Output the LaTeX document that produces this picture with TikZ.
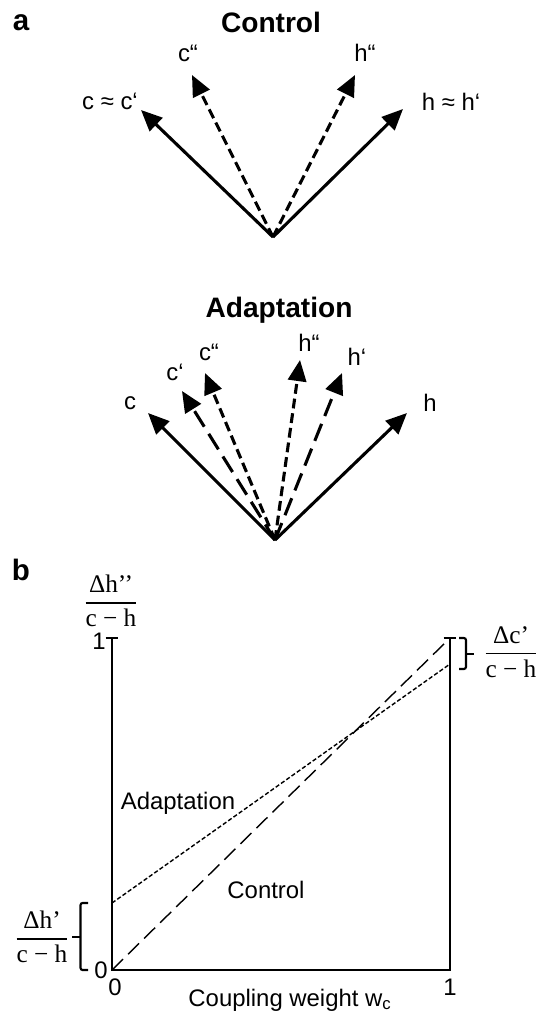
\documentclass[tikz,border=0pt]{standalone}
\usepackage{amsmath}
\usepackage{fontspec}
\setmainfont{Liberation Sans}
\newfontfamily\fracfont{Liberation Serif}
\usetikzlibrary{arrows.meta}

% fraction label with a heavy rule: #1=numerator, #2=denominator
\newcommand{\ratiolbl}[2]{%
  $\genfrac{}{}{1.3pt}{0}{\mbox{\fracfont #1}}{\mbox{\fracfont #2}}$%
}

\begin{document}
\begin{tikzpicture}[x=0.025cm, y=-0.025cm,
  >={Triangle[length=15pt,width=13pt]},
  vecsolid/.style={->, line width=2.2pt},
  vecshort/.style={->, line width=2.2pt, dash pattern=on 7pt off 3.5pt},
  veclong/.style={->, line width=2.2pt, dash pattern=on 13pt off 6pt},
  vlbl/.style={font=\fontsize{17}{20}\selectfont, inner sep=0pt},
  ttl/.style={font=\bfseries\fontsize{20}{24}\selectfont, inner sep=0pt},
  panel/.style={font=\bfseries\fontsize{21}{25}\selectfont, inner sep=0pt},
  axisline/.style={line width=1.5pt},
  fraclbl/.style={font=\fracfont\fontsize{18}{21}\selectfont, inner sep=0pt},
  bracketline/.style={line width=1.5pt, rounded corners=1.5pt}]

\useasboundingbox (0,0) rectangle (536,1013);

% ================================================================
% Panel a, Control
% ================================================================
\node[panel] (pa) at (21,23) {a};
\node[ttl] (tctl) at (271,22) {Control};

\coordinate (oc) at (273,237);
\coordinate (cc) at (141,110);
\coordinate (ccc) at (192,75);
\coordinate (hhh) at (355,75);
\coordinate (hh) at (403,109);

\node[vlbl] (lcc) at (110,101) {c ≈ c‘};
\node[vlbl] (lccc) at (188,53) {c“};
\node[vlbl] (lhhh) at (365,53) {h“};
\node[vlbl] (lhh) at (451,102) {h ≈ h‘};

\draw[vecsolid] (oc) -- (cc);
\draw[vecshort] (oc) -- (ccc);
\draw[vecshort] (oc) -- (hhh);
\draw[vecsolid] (oc) -- (hh);

% ================================================================
% Panel a, Adaptation
% ================================================================
\node[ttl] (tadp) at (279,310) {Adaptation};

\coordinate (oa) at (275,540);
\coordinate (ac) at (148,413);
\coordinate (acp) at (182,391);
\coordinate (acpp) at (205,373);
\coordinate (ahpp) at (300,360);
\coordinate (ahp) at (342,373);
\coordinate (ah) at (407,413);

\node[vlbl] (lac) at (130,403) {c};
\node[vlbl] (lacp) at (175,372) {c‘};
\node[vlbl] (lacpp) at (209,352) {c“};
\node[vlbl] (lahpp) at (309,343) {h“};
\node[vlbl] (lahp) at (357,357) {h‘};
\node[vlbl] (lah) at (430,403) {h};

\draw[vecsolid] (oa) -- (ac);
\draw[veclong] (oa) -- (acp);
\draw[vecshort] (oa) -- (acpp);
\draw[vecshort] (oa) -- (ahpp);
\draw[veclong] (oa) -- (ahp);
\draw[vecsolid] (oa) -- (ah);

% ================================================================
% Panel b: x 0..1 -> 112..450, y 0..1 -> 970..638
% ================================================================
\node[panel] (pb) at (21,570) {b};

\coordinate (p00) at (112,970);
\coordinate (p01) at (112,638);
\coordinate (p10) at (450,970);
\coordinate (p11) at (450,638);
\coordinate (adpl) at (112,903);
\coordinate (adpr) at (450,664);

% axes with small caps on top
\draw[axisline] (p01) -- (p00) -- (p10) -- (p11);
\draw[axisline] ([xshift=-4.5]p01) -- ([xshift=4.5]p01);
\draw[axisline] ([xshift=-4.5]p11) -- ([xshift=4.5]p11);

% Control and Adaptation lines
\draw[line width=1pt, dash pattern=on 11pt off 5pt] (p00) -- (p11);
\draw[line width=1pt, dash pattern=on 3pt off 1.6pt] (adpl) -- (adpr);

\node[vlbl] (ladp) at (178,803) {Adaptation};
\node[vlbl] (lctl) at (266,890) {Control};

% tick labels
\node[vlbl] (y0) at (101,970) {0};
\node[vlbl] (y1) at (99,641) {1};
\node[vlbl] (x0) at (115,987) {0};
\node[vlbl] (x1) at (450,987) {1};
\node[vlbl] (xlab) at (290,1000) {Coupling weight w\textsubscript{c}};

% ratio labels
\node[fraclbl] (fhpp) at (111,601) {\ratiolbl{Δh’’}{c − h}};
\node[fraclbl] (fcp) at (511,652) {\ratiolbl{Δc’}{c − h}};
\node[fraclbl] (fhp) at (42,937) {\ratiolbl{Δh’}{c − h}};

% brackets
\draw[bracketline] (88,903) -- (80.5,903) -- (80.5,970) -- (88,970);
\draw[line width=1.5pt] (80.5,937) -- (72,937);
\draw[bracketline] (459,638) -- (466,638) -- (466,669) -- (459,669);
\draw[line width=1.5pt] (466,654) -- (474,654);

\end{tikzpicture}
\end{document}
